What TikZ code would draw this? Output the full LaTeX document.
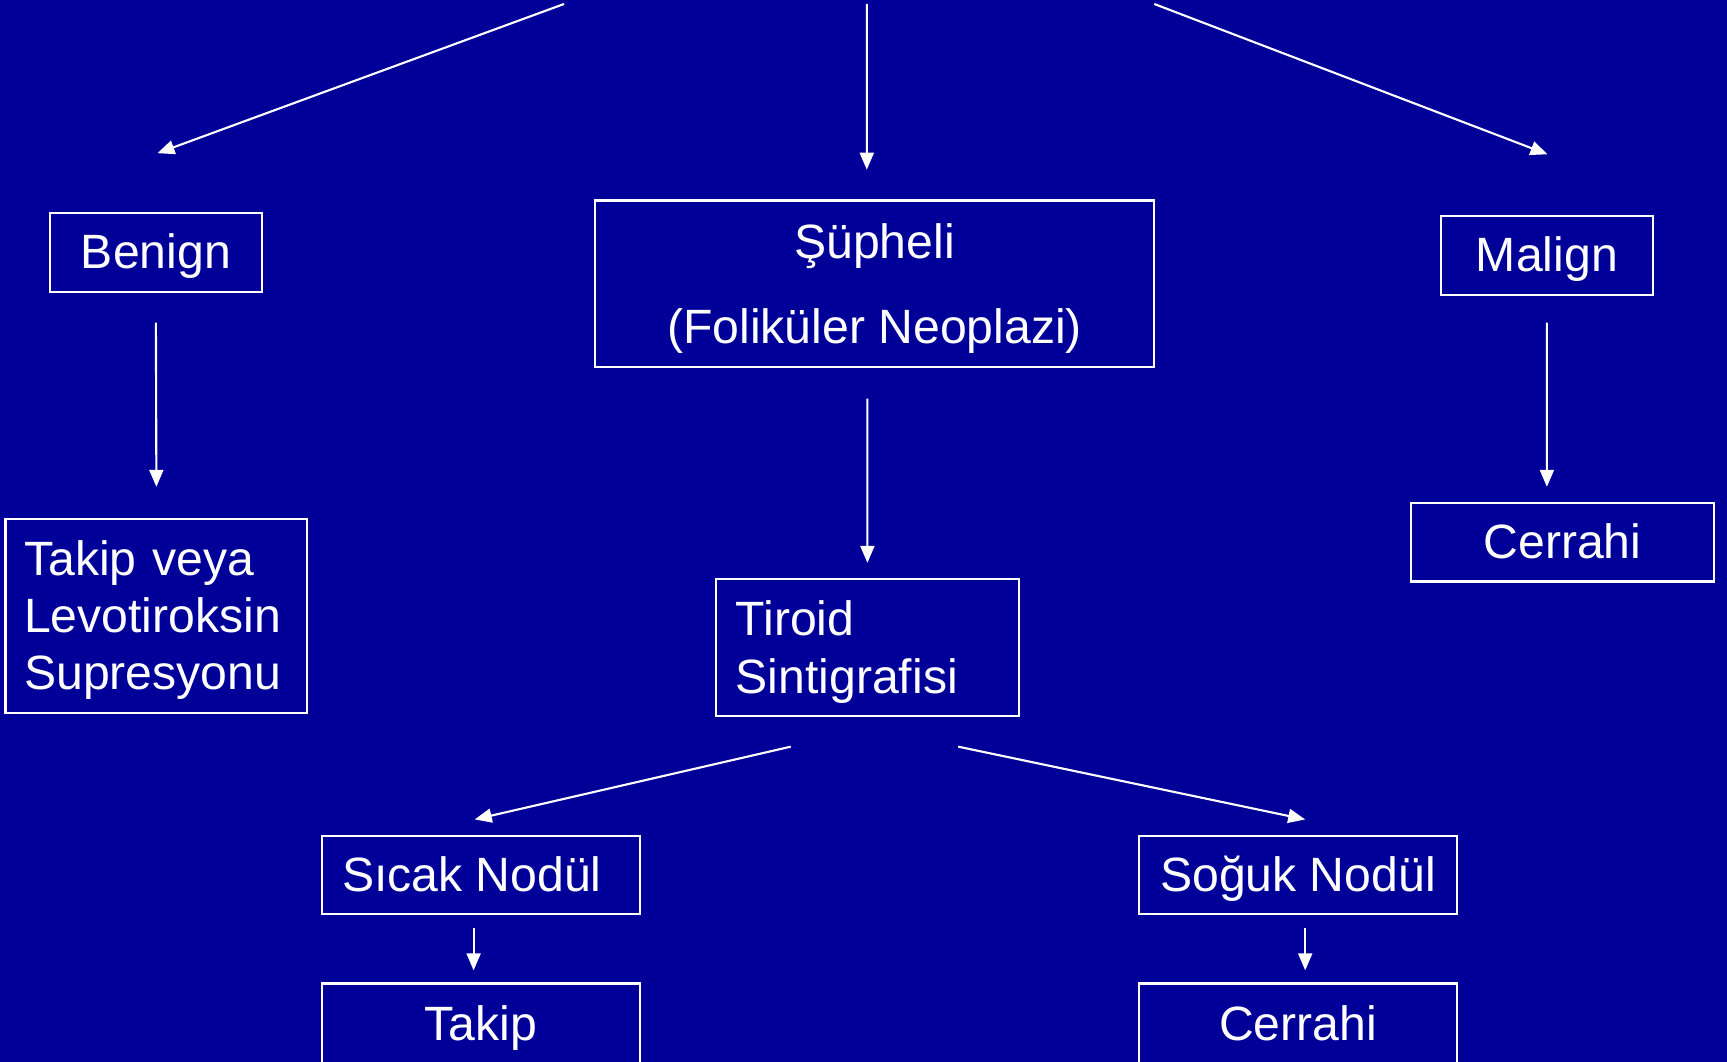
\documentclass[tikz,border=0pt]{standalone}
\usepackage{fontspec}
\setmainfont{Liberation Sans}
\usepackage{tikz}
\usepackage{xcolor}
\usetikzlibrary{positioning, arrows.meta}
\definecolor{flBg}{HTML}{000099}
\definecolor{flInk}{HTML}{FFFFFF}
% lifts the first line of a stacked label so it sits like the slide
\newcommand{\flStrut}{\rule{0pt}{12.5pt}}
\tikzset{
  flBase/.style={rectangle, draw=flInk, text=flInk, line width=0.6pt,
                 inner sep=0pt, align=center,
                 font=\fontsize{13.7}{16.3}\selectfont},
  flOne/.style={flBase, text height=12pt, text depth=2.7pt},
  flSmall/.style={flOne, minimum width=21.25mm, minimum height=7.93mm},
  flNod/.style={flOne, minimum width=31.83mm, minimum height=7.82mm},
  flArrow/.style={-{Triangle[length=1.7mm, width=1.4mm]}, line width=0.6pt, draw=flInk},
}

\begin{document}
\begin{tikzpicture}[x=0.1mm, y=-0.1mm]

  \useasboundingbox (0,0) rectangle (1727,1062);
  \fill[flBg] (0,0) rectangle (1727,1062);

  % ─── Top row: the three cytology results ─────────────────────────────────────
  \node[flSmall] (benign) at (155.9,252.3) {Benign};
  \node[flBase, minimum width=55.95mm, minimum height=16.63mm] (supheli) at (874.6,283.7)
        {\flStrut Şüpheli\\[7.9pt](Foliküler Neoplazi)};
  \node[flSmall] (malign) at (1546.9,255.6) {Malign};

  % incoming arrows from the parent above the slide
  \coordinate (srcL) at (564,4);
  \coordinate (srcM) at (866.8,4);
  \coordinate (srcR) at (1154.3,4);
  \draw[flArrow] (srcL) -- ([xshift=0.16mm, yshift=5.84mm]benign.north);
  \draw[flArrow] (srcM) -- ([xshift=-0.78mm, yshift=2.98mm]supheli.north);
  \draw[flArrow] (srcR) -- ([xshift=0.06mm, yshift=6.06mm]malign.north);

  % ─── Second row ──────────────────────────────────────────────────────────────
  \node[flBase, align=left, text width=26.44mm, minimum width=30.18mm, minimum height=19.38mm]
        (levo) at (156.4,615.7) {\flStrut Takip veya\\Levotiroksin\\Supresyonu};
  \node[flBase, align=left, text width=26.33mm, minimum width=30.29mm, minimum height=13.66mm]
        (tiroid) at (867.4,647.6) {\flStrut Tiroid\\Sintigrafisi};
  \node[flOne, minimum width=30.29mm, minimum height=7.82mm] (cerrahiM) at (1562.4,542.4) {Cerrahi};

  \draw[flArrow] ([yshift=-2.97mm]benign.south) -- ([yshift=3.09mm]levo.north);
  \draw[flArrow] ([xshift=-0.72mm, yshift=-3.08mm]supheli.south) -- ([yshift=1.54mm]tiroid.north);
  \draw[flArrow] ([yshift=-2.64mm]malign.south) -- ([xshift=-1.55mm, yshift=1.54mm]cerrahiM.north);

  % ─── Scintigraphy outcome ────────────────────────────────────────────────────
  \node[flNod] (sicak) at (480.8,875.1) {Sıcak Nodül\hspace*{1.8mm}};
  \node[flNod] (soguk) at (1298,875.1) {Soğuk Nodül};
  \node[flNod, minimum height=8.1mm] (takip) at (480.8,1024) {Takip};
  \node[flNod, minimum height=8.1mm] (cerrahiS) at (1298,1024) {Cerrahi};

  \draw[flArrow] ([xshift=-7.66mm, yshift=-2.97mm]tiroid.south) -- ([xshift=-0.61mm, yshift=1.55mm]sicak.north);
  \draw[flArrow] ([xshift=9.08mm, yshift=-2.97mm]tiroid.south) -- ([xshift=0.72mm, yshift=1.55mm]soguk.north);
  \draw[flArrow] ([xshift=-0.72mm, yshift=-1.32mm]sicak.south) -- ([xshift=-0.72mm, yshift=1.21mm]takip.north);
  \draw[flArrow] ([xshift=0.72mm, yshift=-1.32mm]soguk.south) -- ([xshift=0.72mm, yshift=1.21mm]cerrahiS.north);

\end{tikzpicture}
\end{document}
